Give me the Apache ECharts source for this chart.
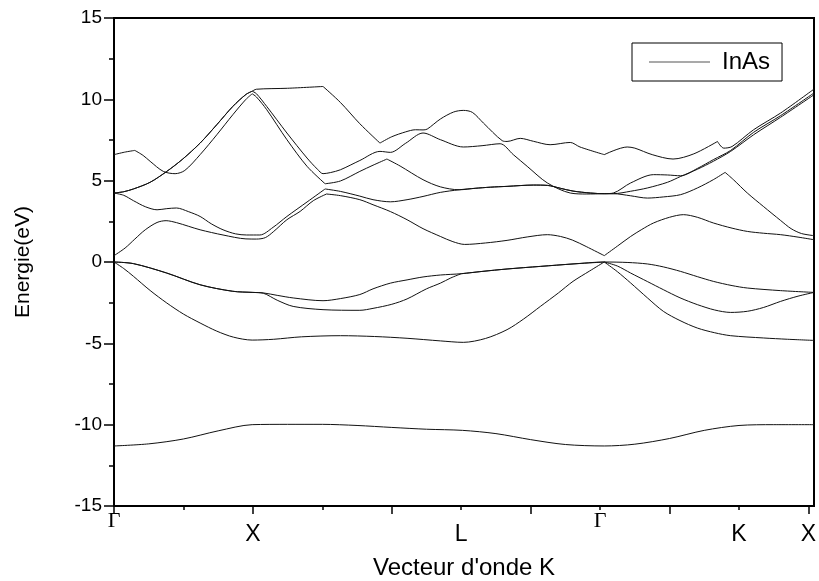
<!DOCTYPE html>
<html>
<head>
<meta charset="utf-8">
<script src="https://cdn.jsdelivr.net/npm/echarts@6.0.0/dist/echarts.min.js"></script>
<style>
html,body{margin:0;padding:0;background:#fff;}
#chart{width:819px;height:581px;}
</style>
</head>
<body>
<div id="chart"></div>
<script>
// ---- axis ticks / labels ----
const kMajorTicks = [0, 2, 4, 6, 8, 10];
const kMinorTicks = [1, 3, 5, 7, 9];
const kGammaPos = [0, 7];
const kGammaText = ['Γ', 'Γ'];
const kPointPos = [2, 5, 9, 10];
const kPointText = ['X', 'L', 'K', 'X'];

// ---- bands: [k, E(eV)], null marks a kink ----
const bandV1 = [[0,-11.31],[0.5,-11.18],[1.0,-10.88],[1.5,-10.38],[1.99,-10.0],[2.5,-9.98],[3.0,-9.98],[3.5,-10.05],[4.0,-10.17],[4.5,-10.28],[5.02,-10.35],[5.5,-10.55],[6.0,-10.92],[6.5,-11.22],[7.06,-11.31],[7.5,-11.2],[8.0,-10.85],[8.5,-10.35],[9.0,-10.05],[9.5,-10.0],[10.08,-10.0]];

const bandV2 = [[0,0],[0.14,-0.4],[0.28,-0.88],[0.52,-1.75],[0.76,-2.52],[1.0,-3.2],[1.24,-3.75],[1.48,-4.25],[1.72,-4.62],[1.99,-4.8],[2.3,-4.75],[2.7,-4.6],[3.26,-4.53],[3.75,-4.58],[4.22,-4.69],[4.7,-4.85],[5.03,-4.94],[5.35,-4.7],[5.66,-4.16],[5.9,-3.5],[6.14,-2.73],[6.4,-1.9],[6.61,-1.19],[6.85,-0.55],[7.06,0],null,[7.25,-0.6],[7.44,-1.29],[7.68,-2.2],[7.91,-3.03],[8.15,-3.6],[8.4,-4.06],[8.65,-4.35],[8.88,-4.53],[9.35,-4.67],[9.7,-4.75],[10.08,-4.82]];

const bandV3 = [[0,0],[0.28,-0.1],[0.76,-0.68],[1.24,-1.4],[1.71,-1.8],[2.0,-1.87],[2.15,-1.92],[2.35,-2.35],[2.58,-2.73],[3.01,-2.93],[3.54,-2.97],[3.73,-2.85],[4.0,-2.6],[4.22,-2.27],[4.5,-1.65],[4.7,-1.3],[4.85,-0.98],[5.0,-0.72],null,[5.3,-0.58],[5.66,-0.43],[6.14,-0.27],[6.61,-0.12],[7.06,0],null,[7.25,-0.25],[7.44,-0.68],[7.68,-1.2],[7.91,-1.7],[8.15,-2.2],[8.4,-2.62],[8.65,-2.95],[8.88,-3.1],[9.12,-3.03],[9.35,-2.8],[9.6,-2.42],[9.85,-2.1],[10.08,-1.87]];

const bandV4 = [[0,0],[0.28,-0.1],[0.76,-0.68],[1.24,-1.4],[1.71,-1.8],[2.0,-1.87],[2.15,-1.9],[2.35,-2.05],[2.58,-2.21],[3.01,-2.38],[3.26,-2.25],[3.54,-2.0],[3.73,-1.65],[3.98,-1.3],[4.22,-1.1],[4.45,-0.92],[4.7,-0.8],[5.0,-0.72],[5.3,-0.58],[5.66,-0.43],[6.14,-0.27],[6.61,-0.12],[7.06,0],[7.4,-0.03],[7.68,-0.12],[7.91,-0.3],[8.16,-0.58],[8.4,-0.9],[8.63,-1.19],[8.9,-1.45],[9.12,-1.6],[9.6,-1.76],[10.08,-1.87]];

const bandC1 = [[0,0.39],[0.16,0.86],[0.30,1.41],[0.45,1.98],[0.62,2.43],[0.75,2.54],[0.90,2.42],[1.07,2.2],[1.24,1.98],[1.57,1.66],[1.9,1.42],[2.05,1.41],[2.18,1.5],[2.3,1.88],[2.49,2.6],[2.68,3.11],[2.87,3.77],[3.06,4.18],null,[3.26,4.08],[3.54,3.83],[3.73,3.52],[3.98,3.1],[4.22,2.6],[4.45,2.05],[4.70,1.57],[4.88,1.25],[5.05,1.08],[5.35,1.17],[5.66,1.33],[5.95,1.54],[6.24,1.68],[6.43,1.57],[6.6,1.35],[6.8,0.95],[7.06,0.39],null,[7.25,0.98],[7.44,1.57],[7.6,2.0],[7.77,2.4],[8.0,2.75],[8.2,2.91],[8.4,2.75],[8.63,2.4],[8.9,2.08],[9.12,1.88],[9.35,1.77],[9.6,1.68],[9.85,1.53],[10.08,1.37]];

const bandC2 = [[0,4.24],[0.14,4.1],[0.28,3.77],[0.45,3.4],[0.62,3.21],[0.76,3.28],[0.9,3.32],[1.07,3.1],[1.24,2.8],[1.4,2.35],[1.57,1.98],[1.75,1.73],[1.91,1.66],[2.1,1.66],[2.29,2.13],[2.49,2.8],[2.78,3.69],[3.04,4.49],null,[3.26,4.34],[3.54,4.05],[3.73,3.83],[3.98,3.7],[4.22,3.83],[4.45,4.03],[4.7,4.28],[4.97,4.44],[5.2,4.53],[5.42,4.6],[5.66,4.65],[6.04,4.73],[6.24,4.71],[6.43,4.53],[6.61,4.36],[6.86,4.24],[7.06,4.2],[7.19,4.2],[7.44,4.07],[7.68,3.93],[7.91,4.0],[8.16,4.14],[8.4,4.55],[8.63,5.06],[8.8,5.51],null,[8.92,5.06],[9.12,4.24],[9.35,3.42],[9.6,2.55],[9.75,2.05],[9.9,1.75],[10.08,1.62]];

const bandC3 = [[0,4.24],[0.14,4.32],[0.28,4.49],[0.52,4.9],[0.76,5.57],[0.99,6.33],[1.24,7.31],[1.48,8.44],[1.71,9.56],[1.9,10.3],[1.99,10.5],null,[2.05,10.35],[2.2,9.56],[2.49,7.93],[2.78,6.39],[2.93,5.7],[3.01,5.43],[3.12,5.5],[3.26,5.67],[3.54,6.24],[3.83,6.8],[3.98,6.74],[4.2,7.3],[4.45,7.93],[4.7,7.52],[5.03,7.07],[5.3,7.15],[5.56,7.27],[5.75,6.6],[5.95,5.88],[6.24,4.86],[6.57,4.24],[6.8,4.18],[7.06,4.2],[7.19,4.24],[7.44,4.86],[7.77,5.37],[7.97,5.35],[8.16,5.3],[8.4,5.75],[8.63,6.29],[8.88,6.86],[9.21,7.97],[9.6,9.0],[10.08,10.39]];

const bandC4 = [[0,4.24],[0.14,4.32],[0.28,4.49],[0.52,4.9],[0.76,5.57],[0.99,6.33],[1.24,7.31],[1.48,8.44],[1.71,9.56],[1.9,10.3],[1.99,10.5],null,[2.05,10.62],[2.5,10.68],[3.01,10.79],null,[3.26,9.81],[3.54,8.5],[3.83,7.31],null,[4.0,7.7],[4.2,8.0],[4.34,8.13],[4.45,8.12],[4.51,8.17],[4.7,8.79],[4.89,9.22],[5.03,9.32],[5.16,9.2],[5.32,8.54],[5.59,7.46],[5.66,7.41],[5.85,7.6],[6.04,7.42],[6.28,7.21],[6.57,7.35],[6.71,7.07],[7.06,6.6],null,[7.39,7.07],[7.5,7.0],[7.75,6.6],[8.05,6.33],[8.35,6.65],[8.69,7.41],null,[8.78,7.0],[8.9,7.1],[9.21,8.13],[9.6,9.16],[10.08,10.63]];

const bandC5 = [[0,6.6],[0.15,6.75],[0.3,6.86],null,[0.42,6.55],[0.52,6.19],[0.71,5.57],[0.88,5.43],[1.02,5.63],[1.24,6.6],[1.48,7.82],[1.71,9.05],[1.9,10.0],[1.99,10.34],null,[2.05,10.15],[2.2,9.36],[2.49,7.52],[2.78,5.88],[3.04,4.81],null,[3.26,4.98],[3.54,5.57],[3.73,5.95],[3.93,6.33],null,[4.12,5.9],[4.45,5.06],[4.7,4.62],[4.97,4.44],[5.2,4.53],[5.42,4.6],[5.66,4.65],[6.04,4.73],[6.24,4.71],[6.43,4.53],[6.61,4.36],[6.86,4.24],[7.06,4.2],[7.19,4.2],[7.44,4.35],[7.68,4.55],[7.97,4.9],[8.16,5.26],[8.4,5.7],[8.63,6.19],[8.88,6.8],[9.21,7.82],[9.6,8.9],[10.08,10.28]];

const bands = [bandV1, bandV2, bandV3, bandV4, bandC1, bandC2, bandC3, bandC4, bandC5];
const seriesName = 'InAs';

function splitBand(band) {
  const segs = [];
  let cur = [];
  band.forEach(p => {
    if (p === null) {
      segs.push(cur);
      cur = [cur[cur.length - 1]];
    } else {
      cur.push(p);
    }
  });
  segs.push(cur);
  return segs;
}

const series = [];
bands.forEach(b => {
  splitBand(b).forEach(seg => {
    series.push({
      type: 'line', name: seriesName, data: seg, smooth: 0.3,
      symbol: 'none', showSymbol: false, xAxisIndex: 0, yAxisIndex: 0,
      lineStyle: { color: '#111', width: 1 }, itemStyle: { color: '#111' },
      animation: false, silent: true
    });
  });
});

const sans = 'Liberation Sans, Arial, sans-serif';
const chart = echarts.init(document.getElementById('chart'), null, { renderer: 'canvas' });
chart.setOption({
  backgroundColor: '#fff',
  animation: false,
  grid: {
    left: 114, top: 18, width: 700, height: 488, containLabel: false, outerBoundsMode: 'none',
    show: true, borderColor: '#000', borderWidth: 2, backgroundColor: 'transparent'
  },
  legend: {
    data: [{ name: seriesName, icon: 'rect' }], left: 632, top: 43,
    padding: [7, 12, 7, 17], itemWidth: 61, itemHeight: 1,
    itemStyle: { color: '#555', borderWidth: 0 },
    borderColor: '#000', borderWidth: 1,
    textStyle: { fontSize: 24, lineHeight: 24, fontFamily: sans, color: '#000', padding: [0, 0, 0, 7] }
  },
  xAxis: [
    {
      type: 'value', min: 0, max: 10.08, position: 'bottom',
      axisLine: { onZero: false, lineStyle: { color: '#000', width: 2 } },
      axisTick: { customValues: kMajorTicks, length: 8, lineStyle: { color: '#000', width: 1.5 } },
      axisLabel: {
        customValues: kPointPos, margin: 17, color: '#000', fontSize: 23,
        fontFamily: sans,
        formatter: v => kPointText[kPointPos.indexOf(v)] || ''
      },
      splitLine: { show: false },
      name: "Vecteur d'onde K", nameLocation: 'middle', nameGap: 50,
      nameTextStyle: { fontSize: 24, color: '#000', fontFamily: sans }
    },
    {
      type: 'value', min: 0, max: 10.08, position: 'bottom',
      axisLine: { show: false, onZero: false },
      axisTick: { customValues: kMinorTicks, length: 4, lineStyle: { color: '#000', width: 1.5 } },
      axisLabel: {
        customValues: kGammaPos, margin: 4, color: '#000', fontSize: 22,
        fontFamily: 'Liberation Serif, Times New Roman, serif',
        formatter: v => kGammaText[kGammaPos.indexOf(v)] || ''
      },
      splitLine: { show: false }
    }
  ],
  yAxis: {
    type: 'value', min: -15, max: 15, interval: 5,
    axisLine: { onZero: false, lineStyle: { color: '#000', width: 2 } },
    axisTick: { length: 10, lineStyle: { color: '#000', width: 1.5 } },
    minorTick: { show: true, splitNumber: 2, length: 5, lineStyle: { color: '#000', width: 1.5 } },
    axisLabel: { margin: 12, color: '#000', fontSize: 19, fontFamily: sans },
    splitLine: { show: false },
    name: 'Energie(eV)', nameLocation: 'middle', nameGap: 80,
    nameTextStyle: { fontSize: 21, color: '#000', fontFamily: sans }
  },
  series: series
});
</script>
</body>
</html>
